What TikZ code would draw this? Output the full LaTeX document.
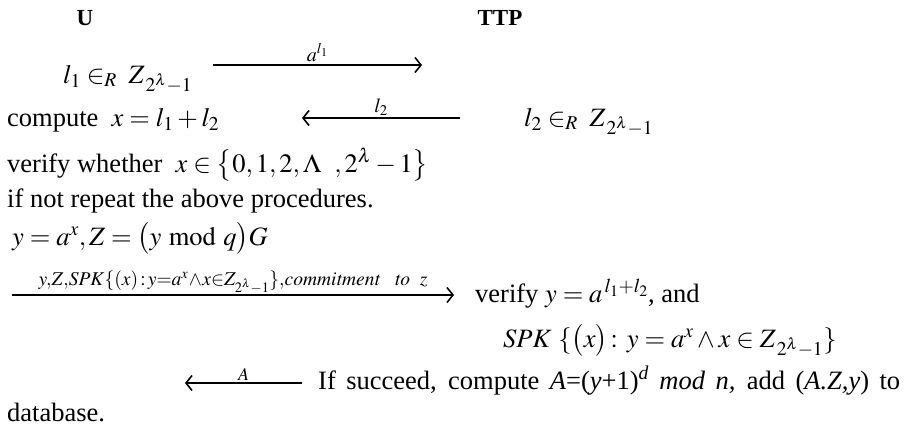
\documentclass[tikz,border=0pt]{standalone}
\usepackage{mathptmx}
\usepackage[no-math]{fontspec}
\setmainfont{Liberation Serif}
\usetikzlibrary{arrows.meta}
\tikzset{
  txt/.style={anchor=base west, inner sep=0pt, font=\fontsize{26.5}{31}\selectfont},
  hdr/.style={anchor=base, inner sep=0pt, font=\fontsize{23}{28}\selectfont\bfseries},
  lbl/.style={inner sep=0pt, font=\fontsize{20}{24}\selectfont},
  msg/.style={line width=1.5pt, -{Straight Barb[length=6pt,width=15pt,line width=1.6pt]}},
}
\begin{document}
\begin{tikzpicture}[x=1pt,y=-1pt]
\useasboundingbox (0,0) rectangle (921,428);
\node[hdr] (U) at (85,26) {U};
\node[hdr] (TTP) at (500,26) {TTP};
\node[txt] (l1) at (63,83) {$l_1 \in_R\; Z_{\,2^{\lambda}-1}$};
\coordinate (a1s) at (213,65);
\coordinate (a1e) at (422,65);
\draw[msg] (a1s) -- node[lbl, above=3pt] (a1l) {$a^{l_1}$} (a1e);
\node[txt] (cmp) at (7,126) {compute\ \ $x = l_1 + l_2$};
\coordinate (a2s) at (460,118);
\coordinate (a2e) at (302,118);
\draw[msg] (a2s) -- node[lbl, above=2pt] (a2l) {$l_2$} (a2e);
\node[txt] (l2) at (524,126) {$l_2 \in_R\; Z_{\,2^{\lambda}-1}$};
\node[txt] (vw) at (7,172) {verify whether\ \ $x \in \bigl\{0,1,2,\Lambda\ \ ,2^{\lambda}-1\bigr\}$};
\node[txt] (ifn) at (7,207) {if not repeat the above procedures.};
\node[txt] (yz) at (12,245) {$y = a^{x}, Z = \bigl(y \bmod q\bigr)G$};
\coordinate (a3s) at (12,295);
\coordinate (a3e) at (454,295);
\draw[msg] (a3s) -- node[lbl, above=1pt, font=\fontsize{19.5}{23}\selectfont] (a3l) {$y,\!Z,\!\mathit{SPK}\{(x)\!:\!y{=}a^{x}\!\wedge\! x{\in} Z_{2^{\lambda}-1}\},\!\mathit{commitment}\ \ \ \mathit{to}\ \ z$} (a3e);
\node[txt] (vy) at (475,302) {verify $y = a^{\,l_1+l_2}$, and};
\node[txt] (spk) at (503,347) {$\mathit{SPK}\ \{\bigl(x\bigr)\!:\, y = a^{x} \wedge x \in Z_{\,2^{\lambda}-1}\}$};
\coordinate (a4s) at (302,383);
\coordinate (a4e) at (185,383);
\draw[msg] (a4s) -- node[lbl, above=2pt, font=\fontsize{18}{22}\selectfont] (a4l) {$A$} (a4e);
\node[txt] (suc) at (318,389) {\makebox[582pt][s]{If succeed, compute \textit{A}=(\textit{y}+1)\textsuperscript{\textit{d}} \textit{mod n,} add (\textit{A.Z,y}) to}};
\node[txt] (db) at (7,421) {database.};
\end{tikzpicture}
\end{document}
